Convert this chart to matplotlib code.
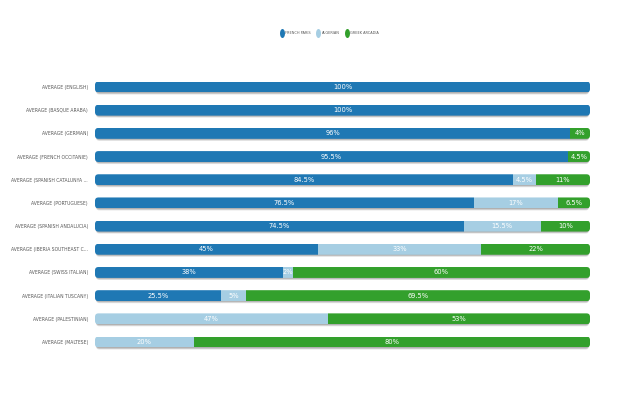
import matplotlib
matplotlib.use("Agg")
import os
import matplotlib.pyplot as plt
from matplotlib.patches import FancyBboxPatch
from matplotlib import font_manager
import numpy as np

categories = [
    "AVERAGE (ENGLISH)",
    "AVERAGE (BASQUE ARABA)",
    "AVERAGE (GERMAN)",
    "AVERAGE (FRENCH OCCITANIE)",
    "AVERAGE (SPANISH CATALUNYA ...",
    "AVERAGE (PORTUGUESE)",
    "AVERAGE (SPANISH ANDALUCIA)",
    "AVERAGE (IBERIA SOUTHEAST C...",
    "AVERAGE (SWISS ITALIAN)",
    "AVERAGE (ITALIAN TUSCANY)",
    "AVERAGE (PALESTINIAN)",
    "AVERAGE (MALTESE)",
]
series_names = ["FRENCH PARIS", "ALGERIAN", "GREEK ARCADIA"]
french_paris = [100, 100, 96, 95.5, 84.5, 76.5, 74.5, 45, 38, 25.5, 0, 0]
algerian = [0, 0, 0, 0, 4.5, 17, 15.5, 33, 2, 5, 47, 20]
greek_arcadia = [0, 0, 4, 4.5, 11, 6.5, 10, 22, 60, 69.5, 53, 80]
colors = ["#1f78b4", "#a6cee3", "#33a02c"]

# find a condensed sans font if one is installed
cond = None
bad = ("mono", "bold", "italic", "oblique", "light", "serif", "thin", "black",
       "medium", "semi", "extra", "ultra")
for f in font_manager.fontManager.ttflist:
    base = os.path.basename(f.fname).lower()
    if ("condensed" in base or "narrow" in base) and not any(b in base for b in bad):
        cond = f.fname
        break
if cond is not None:
    def fp(size):
        return font_manager.FontProperties(fname=cond, size=size)
    lab_size, val_size, leg_size = 3.6, 5.3, 2.8
else:
    def fp(size):
        return font_manager.FontProperties(family=["Roboto", "DejaVu Sans"], size=size)
    lab_size, val_size, leg_size = 3.0, 4.6, 2.4

fig = plt.figure(figsize=(6.21, 4.0), dpi=100)
ax = fig.add_axes([95 / 621, 1 - 353.6 / 400, 495 / 621, (353.6 - 75.4) / 400])

n = len(categories)
y = np.arange(n)
h = 0.47
ax.set_xlim(0, 100)
ax.set_ylim(n - 0.5, -0.5)

# shadows
for i in range(n):
    for dy, a in [(0.09, 0.10), (0.06, 0.12), (0.03, 0.12)]:
        sh = FancyBboxPatch((0.2, i - h / 2 + dy), 99.6, h,
                            boxstyle="round,pad=0,rounding_size=0.7",
                            mutation_aspect=0.213, fc="#000000", ec="none",
                            alpha=a, zorder=1)
        ax.add_patch(sh)

series = [french_paris, algerian, greek_arcadia]
left = np.zeros(n)
bars_all = []
for vals, c in zip(series, colors):
    vals = np.array(vals, dtype=float)
    bars = ax.barh(y, vals, left=left, height=h, color=c, edgecolor="none", zorder=2)
    bars_all.append((bars, vals, left.copy()))
    left = left + vals

for i in range(n):
    clip = FancyBboxPatch((0, i - h / 2), 100, h,
                          boxstyle="round,pad=0,rounding_size=0.7",
                          mutation_aspect=0.213, fc="none", ec="none",
                          transform=ax.transData)
    ax.add_patch(clip)
    for bars, vals, lf in bars_all:
        bars[i].set_clip_path(clip)

for bars, vals, lf in bars_all:
    for i in range(n):
        v = vals[i]
        if v >= 2:
            ax.text(lf[i] + v / 2, i, f"{v:g}%", ha="center", va="center",
                    color="white", fontproperties=fp(val_size), zorder=3)

ax.set_yticks(y)
ax.set_yticklabels(categories, fontproperties=fp(lab_size), color="#555555")
ax.tick_params(axis="y", length=0, pad=5)
ax.set_xticks([])
for s in ax.spines.values():
    s.set_visible(False)

t = np.linspace(0, 2 * np.pi, 40)
ellipse = np.column_stack([0.55 * np.cos(t), np.sin(t)])
handles = [plt.Line2D([], [], marker=ellipse, linestyle="none", markersize=6.5,
                      markerfacecolor=c, markeredgecolor="none") for c in colors]
fig.legend(handles, series_names, loc="center", bbox_to_anchor=(0.531, 1 - 33 / 400),
           ncol=3, frameon=False, prop=fp(leg_size), handlelength=0.8,
           handletextpad=0.45, columnspacing=1.5, labelcolor="#555555")

fig.savefig("out.png", dpi=100)
